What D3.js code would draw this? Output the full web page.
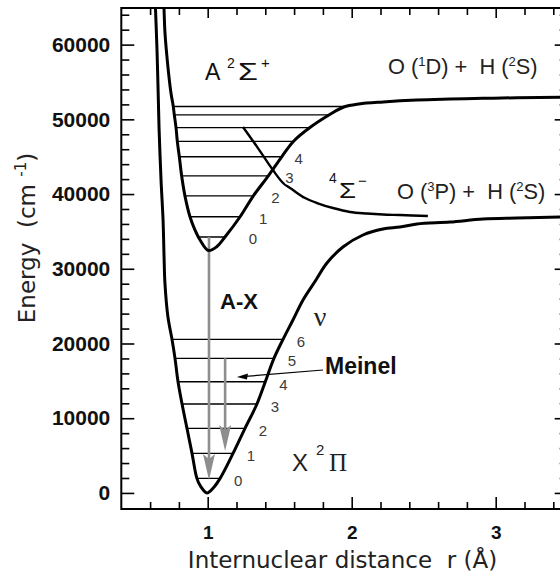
<!DOCTYPE html>
<html lang="en">
<head>
<meta charset="utf-8">
<script src="https://d3js.org/d3.v7.min.js"></script>
<style>
    body { margin: 0; background: #fff; overflow: hidden; }
    svg { font-family: "Liberation Sans", Arial, Helvetica, sans-serif; }
    svg text { white-space: pre; }
    .axis text { font-size: 21px; font-weight: bold; fill: #111; font-family: "Liberation Sans", Arial, sans-serif; }
    .axis line { stroke: #000; stroke-width: 1.6px; }
    .vib { font-size: 15px; fill: #3a3a3a; paint-order: stroke; stroke: #fff; stroke-width: 4px; }
    .title { font-family: "DejaVu Sans", Verdana, sans-serif; font-size: 23px; fill: #222; }
</style>
</head>
<body>
<svg id="chart" width="560" height="574"></svg>
<script>
    // potential curves, [r (Å), energy (cm-1)]
    var xStateCurve = [
        [0.634, 66500], [0.648, 59270], [0.655, 54310], [0.662, 48960], [0.676, 41870],
        [0.690, 36520], [0.697, 31570], [0.703, 28090], [0.724, 23540], [0.752, 20560],
        [0.773, 18010], [0.794, 14880], [0.822, 11900], [0.856, 8650], [0.891, 5300],
        [0.925, 1950], [0.950, 900], [0.995, 0], [1.040, 700], [1.086, 1950],
        [1.176, 5300], [1.259, 8650], [1.342, 11900], [1.400, 14880], [1.460, 18010],
        [1.523, 20560], [1.592, 23150], [1.662, 25830], [1.745, 28300], [1.828, 30770],
        [1.939, 32910], [2.078, 34520], [2.217, 35320], [2.335, 35580], [2.453, 35990],
        [2.683, 36250], [2.912, 36650], [3.148, 36790], [3.500, 36950]
    ];
    var aStateCurve = [
        [0.694, 66500], [0.6965, 64890], [0.7035, 61540], [0.724, 57000], [0.745, 53520],
        [0.761, 51720], [0.768, 50610], [0.780, 48900], [0.789, 47040], [0.803, 44990],
        [0.819, 42440], [0.842, 39760], [0.877, 36960], [0.912, 35180], [0.947, 33850],
        [1.005, 32450], [1.0625, 32950], [1.120, 34250], [1.225, 36960], [1.317, 39760],
        [1.421, 42440], [1.514, 44990], [1.595, 47040], [1.710, 48900], [1.845, 50610],
        [1.945, 51650], [2.050, 52060], [2.219, 52330], [2.451, 52580], [2.683, 52710],
        [2.912, 52810], [3.146, 52890], [3.500, 52950]
    ];
    var quartetCurve = [
        [1.245, 48980], [1.349, 46150], [1.453, 43210], [1.523, 41500], [1.592, 40540],
        [1.676, 39470], [1.759, 38800], [1.870, 38130], [1.988, 37600], [2.106, 37390],
        [2.217, 37260], [2.335, 37190], [2.529, 37060]
    ];

    // vibrational levels
    var xLevelEnergy = [1950, 5300, 8650, 11900, 14880, 18010, 20560];
    var xLevelLeft   = [0.925, 0.891, 0.856, 0.822, 0.794, 0.773, 0.752];
    var xLevelRight  = [1.086, 1.176, 1.259, 1.342, 1.400, 1.460, 1.523];
    var xLevelNames  = ["0", "1", "2", "3", "4", "5", "6"];

    var aLevelEnergy = [34250, 36960, 39760, 42440, 44990, 47040, 48900, 50610, 51720];
    var aLevelLeft   = [0.940, 0.877, 0.842, 0.819, 0.803, 0.789, 0.780, 0.768, 0.761];
    var aLevelRight  = [1.120, 1.225, 1.317, 1.421, 1.514, 1.595, 1.710, 1.845, 1.950];
    var aLevelNames  = ["0", "1", "2", "3", "4"];

    // emission arrows (A-X and Meinel)
    var arrowR    = [1.009, 1.121];
    var arrowFrom = [34250, 18010];
    var arrowTo   = [1730, 5610];

    var yMajorTicks = [0, 10000, 20000, 30000, 40000, 50000, 60000];
    var yMinorTicks = [2000, 4000, 6000, 8000, 12000, 14000, 16000, 18000, 22000, 24000, 26000, 28000,
        32000, 34000, 36000, 38000, 42000, 44000, 46000, 48000, 52000, 54000, 56000, 58000, 62000, 64000];
    var xMajorTicks = [1, 2, 3];
    var xMinorTicks = [0.6, 0.8, 1.2, 1.4, 1.6, 1.8, 2.2, 2.4, 2.6, 2.8, 3.2, 3.4];

    var svg = d3.select("#chart");

    var x = d3.scaleLinear().domain([0.4, 3.5]).range([121.3, 567.7]);
    var y = d3.scaleLinear().domain([-2150, 64900]).range([509, 8]);

    svg.append("clipPath").attr("id", "plot-clip")
        .append("rect")
        .attr("x", x(0.4)).attr("y", y(64900))
        .attr("width", x(3.5) - x(0.4)).attr("height", y(-2150) - y(64900));

    // axes: ticks point inward on all four sides
    function addAxis(axis, tx, ty) {
        var g = svg.append("g").attr("class", "axis")
            .attr("transform", "translate(" + tx + "," + ty + ")")
            .call(axis);
        g.select(".domain").remove();
        return g;
    }
    addAxis(d3.axisLeft(y).tickValues(yMajorTicks).tickSizeInner(-13).tickSizeOuter(0)
        .tickPadding(11).tickFormat(d3.format("d")), x(0.4), 0);
    addAxis(d3.axisLeft(y).tickValues(yMinorTicks).tickSizeInner(-8).tickSizeOuter(0)
        .tickFormat(""), x(0.4), 0);
    addAxis(d3.axisLeft(y).tickValues(yMajorTicks).tickSize(13).tickFormat(""), x(3.5), 0);
    addAxis(d3.axisLeft(y).tickValues(yMinorTicks).tickSize(8).tickFormat(""), x(3.5), 0);
    addAxis(d3.axisBottom(x).tickValues(xMajorTicks).tickSizeInner(-12).tickSizeOuter(0)
        .tickPadding(17).tickFormat(d3.format("d")), 0, y(-2150))
        .selectAll("text").style("font-size", "19px");
    addAxis(d3.axisBottom(x).tickValues(xMinorTicks).tickSizeInner(-7).tickSizeOuter(0)
        .tickFormat(""), 0, y(-2150));
    addAxis(d3.axisTop(x).tickValues(xMajorTicks).tickSizeInner(-10).tickSizeOuter(0)
        .tickFormat(""), 0, y(64900));
    addAxis(d3.axisTop(x).tickValues(xMinorTicks).tickSizeInner(-7).tickSizeOuter(0)
        .tickFormat(""), 0, y(64900));

    svg.append("rect")
        .attr("x", x(0.4)).attr("y", y(64900))
        .attr("width", x(3.5) - x(0.4)).attr("height", y(-2150) - y(64900))
        .attr("fill", "none").attr("stroke", "#000").attr("stroke-width", 2);

    var plot = svg.append("g").attr("clip-path", "url(#plot-clip)");

    var line = d3.line()
        .x(function(d) { return x(d[0]); })
        .y(function(d) { return y(d[1]); })
        .curve(d3.curveCatmullRom.alpha(0.5));

    // vibrational level lines
    function drawLevels(energy, left, right) {
        plot.selectAll(null)
            .data(energy)
            .join("line")
            .attr("x1", function(d, i) { return x(left[i]); })
            .attr("x2", function(d, i) { return x(right[i]); })
            .attr("y1", function(d) { return y(d); })
            .attr("y2", function(d) { return y(d); })
            .attr("stroke", "#000")
            .attr("stroke-width", 1.3);
    }
    drawLevels(xLevelEnergy, xLevelLeft, xLevelRight);
    drawLevels(aLevelEnergy, aLevelLeft, aLevelRight);

    // emission arrows
    plot.selectAll(null)
        .data(arrowR)
        .join("line")
        .attr("x1", function(d) { return x(d); })
        .attr("x2", function(d) { return x(d); })
        .attr("y1", function(d, i) { return y(arrowFrom[i]); })
        .attr("y2", function(d, i) { return y(arrowTo[i]) - 20; })
        .attr("stroke", "#8e8e8e")
        .attr("stroke-width", 2.6);
    plot.selectAll(null)
        .data(arrowR)
        .join("path")
        .attr("d", function(d, i) {
            var tx = x(d), ty = y(arrowTo[i]);
            return "M" + tx + "," + ty + "L" + (tx - 6) + "," + (ty - 26) +
                "L" + tx + "," + (ty - 21) + "L" + (tx + 6) + "," + (ty - 26) + "Z";
        })
        .attr("fill", "#8e8e8e");

    plot.append("path").datum(quartetCurve).attr("d", line)
        .attr("fill", "none").attr("stroke", "#000").attr("stroke-width", 2.4);
    plot.append("path").datum(aStateCurve).attr("d", line)
        .attr("fill", "none").attr("stroke", "#000").attr("stroke-width", 3);
    plot.append("path").datum(xStateCurve).attr("d", line)
        .attr("fill", "none").attr("stroke", "#000").attr("stroke-width", 3);

    // vibrational quantum numbers
    svg.selectAll(null)
        .data(xLevelNames)
        .join("text")
        .attr("class", "vib")
        .attr("x", function(d, i) { return x(xLevelRight[i]) + 18; })
        .attr("y", function(d, i) { return y(xLevelEnergy[i]) + 8; })
        .attr("text-anchor", "middle")
        .text(function(d) { return d; });
    var aLabelDx = [28, 23, 22, 21, 17];
    svg.selectAll(null)
        .data(aLevelNames)
        .join("text")
        .attr("class", "vib")
        .attr("x", function(d, i) { return x(aLevelRight[i]) + aLabelDx[i]; })
        .attr("y", function(d, i) { return y(aLevelEnergy[i]) + 7; })
        .attr("text-anchor", "middle")
        .text(function(d) { return d; });

    // Meinel pointer
    var p0 = [x(1.801), y(16450)], p1 = [x(1.203), y(15510)];
    svg.append("line")
        .attr("x1", p0[0]).attr("y1", p0[1]).attr("x2", p1[0] + 8).attr("y2", p1[1] - 0.6)
        .attr("stroke", "#000").attr("stroke-width", 1.2);
    svg.append("path")
        .attr("d", "M" + p1[0] + "," + p1[1] + "l11,-3.5l-1,6z")
        .attr("fill", "#000");

    // text labels
    function addText(px, py, str, size, opts) {
        opts = opts || {};
        var t = svg.append("text")
            .attr("x", px).attr("y", py)
            .attr("font-size", size)
            .attr("font-weight", opts.weight || "normal")
            .attr("text-anchor", opts.anchor || "start")
            .attr("fill", opts.fill || "#111")
            .text(str);
        if (opts.family) t.attr("font-family", opts.family);
        if (opts.stretch) {
            t.attr("transform", "translate(" + px + "," + py + ") scale(" + opts.stretch + ",1) translate(" + (-px) + "," + (-py) + ")");
        }
        return t;
    }

    addText(205, 80, "A", 23);
    addText(227, 68, "2", 14);
    addText(238, 80, "\u03A3", 23, { stretch: 1.4 });
    addText(261, 68, "+", 15);

    var t1 = addText(388, 74, "O (", 21.8, { fill: "#222" });
    t1.append("tspan").attr("font-size", 13).attr("dy", -8).text("1");
    t1.append("tspan").attr("dy", 8).text("D) +  H (");
    t1.append("tspan").attr("font-size", 13).attr("dy", -8).text("2");
    t1.append("tspan").attr("dy", 8).text("S)");

    addText(329, 183, "4", 14);
    addText(339, 198, "\u03A3", 22, { stretch: 1.25 });
    addText(358, 186, "\u2212", 15);

    var t2 = addText(397, 199, "O (", 21.8, { fill: "#222" });
    t2.append("tspan").attr("font-size", 13).attr("dy", -8).text("3");
    t2.append("tspan").attr("dy", 8).text("P) +  H (");
    t2.append("tspan").attr("font-size", 13).attr("dy", -8).text("2");
    t2.append("tspan").attr("dy", 8).text("S)");

    addText(292, 471, "X", 24, { fill: "#222" });
    addText(316, 455, "2", 15, { fill: "#222" });
    addText(329, 471, "\u03A0", 25, { fill: "#222", family: "Liberation Serif, serif" });

    addText(320, 326, "\u03BD", 28, { anchor: "middle", fill: "#222", family: "Liberation Serif, serif" });
    addText(220, 309, "A-X", 22, { weight: "bold" });
    addText(325, 374, "Meinel", 23, { weight: "bold" });

    // axis titles
    svg.append("text")
        .attr("class", "title")
        .attr("x", 342.5).attr("y", 568)
        .attr("text-anchor", "middle")
        .text("Internuclear distance  r (\u00C5)");
    var yt = svg.append("text")
        .attr("class", "title")
        .attr("transform", "translate(35,238) rotate(-90)")
        .attr("text-anchor", "middle")
        .text("Energy  (cm ");
    yt.append("tspan").attr("font-size", 15).attr("dy", -9).text("-1");
    yt.append("tspan").attr("dy", 9).text(")");
</script>
</body>
</html>
